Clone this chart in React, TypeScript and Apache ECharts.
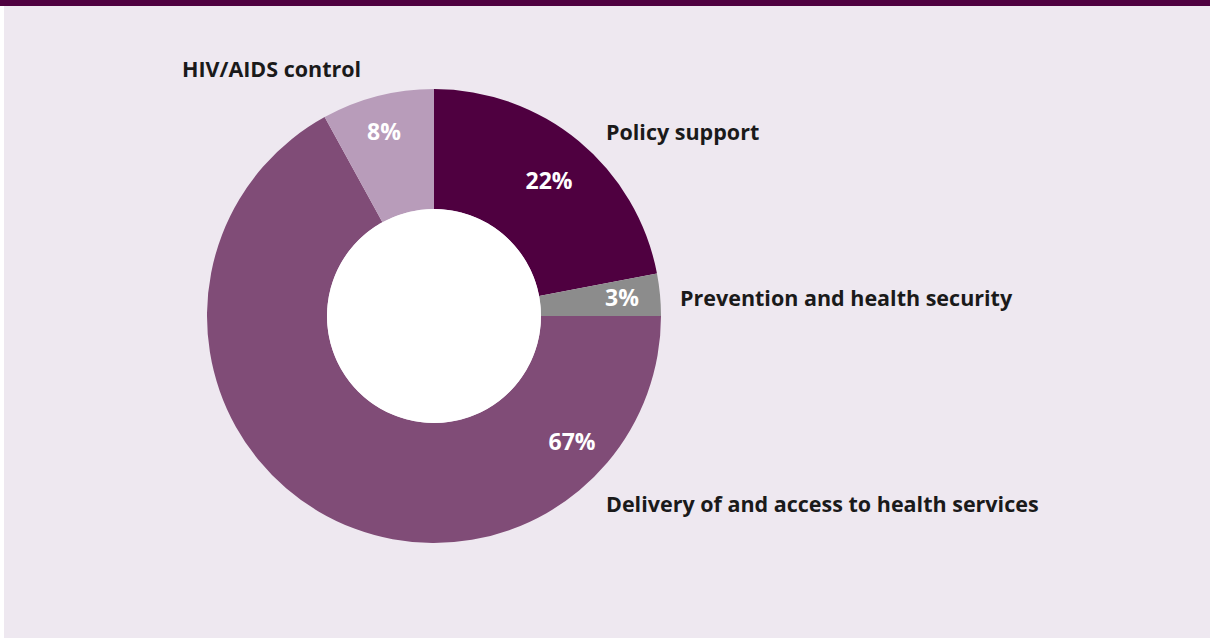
import React, { useEffect, useRef } from "react";
import * as echarts from "echarts";

const categories = [
  "Policy support",
  "Prevention and health security",
  "Delivery of and access to health services",
  "HIV/AIDS control",
];
const shares = [22, 3, 67, 8];
const colors = ["#4F0040", "#8C8C8C", "#804C77", "#B89CBA"];

// layout positions for texts (center of percentage, left/middle of names)
const pctPos = [
  [549, 180],
  [622, 297],
  [572, 441],
  [384, 131],
];
const namePos = [
  [606, 131],
  [680, 297],
  [606, 503],
  [182, 68],
];

const FONT = "'Open Sans', sans-serif";

export default function App() {
  const ref = useRef<HTMLDivElement>(null);
  useEffect(() => {
    document.body.style.margin = "0";
    const chart = echarts.init(ref.current!, null, { renderer: "svg" });
    const graphics: any[] = [
      { type: "rect", shape: { x: 0, y: 0, width: 1210, height: 638 }, style: { fill: "#FFFFFF" }, z: -10 },
      { type: "rect", shape: { x: 4, y: 0, width: 1206, height: 638 }, style: { fill: "#EEE8F0" }, z: -9 },
      { type: "rect", shape: { x: 0, y: 0, width: 1210, height: 6 }, style: { fill: "#4F0040" }, z: -8 },
      { type: "circle", shape: { cx: 434, cy: 316, r: 107 }, style: { fill: "#FFFFFF" }, z: 10 },
    ];
    categories.forEach((c, i) => {
      graphics.push({
        type: "text",
        x: pctPos[i][0],
        y: pctPos[i][1],
        z: 20,
        style: {
          text: shares[i] + "%",
          fill: "#FFFFFF",
          font: `bold 23px ${FONT}`,
          align: "center",
          verticalAlign: "middle",
        },
      });
      graphics.push({
        type: "text",
        x: namePos[i][0],
        y: namePos[i][1],
        z: 20,
        style: {
          text: c,
          fill: "#1A1A1A",
          font: `bold 21.5px ${FONT}`,
          align: "left",
          verticalAlign: "middle",
        },
      });
    });
    chart.setOption({
      animation: false,
      graphic: graphics,
      series: [
        {
          type: "pie",
          center: [434, 316],
          radius: [107, 227],
          startAngle: 90,
          clockwise: true,
          label: { show: false },
          labelLine: { show: false },
          emphasis: { disabled: true },
          itemStyle: { borderWidth: 0 },
          data: categories.map((c, i) => ({
            name: c,
            value: shares[i],
            itemStyle: { color: colors[i] },
          })),
        },
      ],
    });
    return () => chart.dispose();
  }, []);
  return <div ref={ref} style={{ width: 1210, height: 638 }} />;
}
